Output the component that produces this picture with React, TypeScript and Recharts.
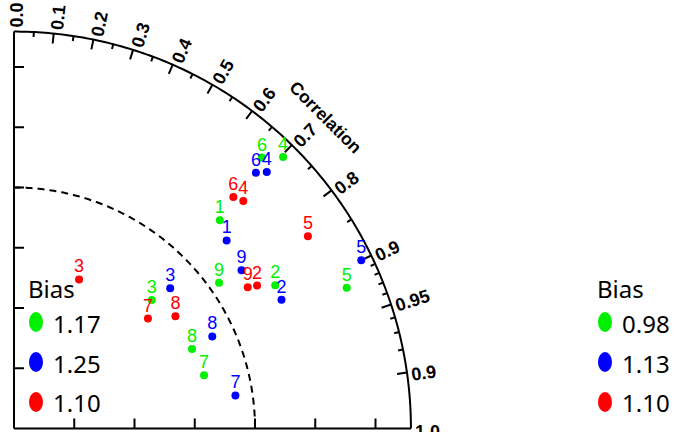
import React from 'react';
import { ScatterChart, Scatter, XAxis, YAxis } from 'recharts';

// ---- data (std normalized, correlation) ----
const greenLabels = ['1', '2', '3', '4', '5', '6', '7', '8', '9'];
const greenStd = [1.215, 1.236, 0.782, 1.586, 1.499, 1.524, 0.819, 0.809, 1.044];
const greenCorr = [0.703, 0.877, 0.731, 0.704, 0.921, 0.675, 0.963, 0.913, 0.815];

const blueLabels = ['1', '2', '3', '4', '5', '6', '7', '8', '9'];
const blueStd = [1.178, 1.232, 0.871, 1.494, 1.601, 1.461, 0.929, 0.907, 1.15];
const blueCorr = [0.749, 0.901, 0.744, 0.702, 0.9, 0.687, 0.989, 0.907, 0.821];

const redLabels = ['2', '3', '4', '5', '6', '7', '8', '9'];
const redStd = [1.17, 0.675, 1.34, 1.457, 1.323, 0.719, 0.816, 1.133];
const redCorr = [0.862, 0.4, 0.71, 0.837, 0.688, 0.773, 0.821, 0.856];

const leftLegendTitle = 'Bias';
const leftLegendValues = ['1.17', '1.25', '1.10'];
const rightLegendTitle = 'Bias';
const rightLegendValues = ['0.98', '1.13', '1.10'];

const stdTicks = [0.25, 0.5, 0.75, 1.0, 1.25, 1.5];
const corrMajorTicks = [0.1, 0.2, 0.3, 0.4, 0.5, 0.6, 0.7, 0.8, 0.9, 0.95, 0.99];
const corrMinorTicks = [0.05, 0.15, 0.25, 0.35, 0.45, 0.55, 0.65, 0.75, 0.85, 0.91, 0.92, 0.93, 0.94, 0.96, 0.97, 0.98];
const corrLabelValues = [0.0, 0.1, 0.2, 0.3, 0.4, 0.5, 0.6, 0.7, 0.8, 0.9, 0.95, 0.99, 1.0];
const corrLabelTexts = ['0.0', '0.1', '0.2', '0.3', '0.4', '0.5', '0.6', '0.7', '0.8', '0.9', '0.95', '0.9', '1.0'];
const axisTitle = 'Correlation';

const STD_MAX = 1.647;
const REF_STD = 1.0;
const DOMAIN_MAX = 1.65;

const GREEN = '#00f000';
const BLUE = '#0000ff';
const RED = '#ff0000';
const seriesColors = [GREEN, BLUE, RED];

const toXY = (std: number, corr: number) => ({
  x: std * corr,
  y: std * Math.sqrt(Math.max(0, 1 - corr * corr)),
});

const buildSeries = (labels: string[], stds: number[], corrs: number[]) =>
  labels.map((label, i) => ({ ...toXY(stds[i], corrs[i]), label }));

const greenData = buildSeries(greenLabels, greenStd, greenCorr);
const blueData = buildSeries(blueLabels, blueStd, blueCorr);
const redData = buildSeries(redLabels, redStd, redCorr);

const arcPoints = (std: number) => {
  const pts = [] as { x: number; y: number }[];
  for (let a = 0; a <= 180; a++) {
    const t = (a / 2) * (Math.PI / 180);
    pts.push({ x: std * Math.cos(t), y: std * Math.sin(t) });
  }
  return pts;
};
const outerArc = arcPoints(STD_MAX);
const refArc = arcPoints(REF_STD);
const yAxisLine = [{ x: 0, y: 0 }, { x: 0, y: STD_MAX }];
const xAxisLine = [{ x: 0, y: 0 }, { x: STD_MAX, y: 0 }];

const leftTicks = stdTicks.map((v) => ({ x: 0, y: v }));
const bottomTicks = stdTicks.map((v) => ({ x: v, y: 0 }));
const corrTicks = [
  ...corrMajorTicks.map((r) => ({ ...toXY(STD_MAX, r), r, len: 10 })),
  ...corrMinorTicks.map((r) => ({ ...toXY(STD_MAX, r), r, len: 5 })),
];
const corrLabels = corrLabelValues.map((r, i) => ({ ...toXY(STD_MAX, r), r, text: corrLabelTexts[i] }));
const titlePoint = [{ ...toXY(1.827, 0.7076), text: axisTitle }];

const Empty = () => <g />;

const LeftTick = (p: any) => (
  <line x1={p.cx} y1={p.cy} x2={p.cx + 10} y2={p.cy} stroke="#000" strokeWidth={2} />
);
const BottomTick = (p: any) => (
  <line x1={p.cx} y1={p.cy} x2={p.cx} y2={p.cy - 10} stroke="#000" strokeWidth={2} />
);
const CorrTick = (p: any) => {
  const r = p.payload.r;
  const s = Math.sqrt(1 - r * r);
  const len = p.payload.len;
  return (
    <line x1={p.cx} y1={p.cy} x2={p.cx - len * r} y2={p.cy + len * s} stroke="#000" strokeWidth={2} />
  );
};
const CorrLabel = (p: any) => {
  const r = p.payload.r;
  const s = Math.sqrt(1 - r * r);
  const ux = r, uy = -s;
  const nx = s, ny = r;
  const x = p.cx + 4 * ux + 3 * nx;
  const y = p.cy + 4 * uy + 3 * ny;
  const ang = (-Math.acos(r) * 180) / Math.PI;
  return (
    <text
      x={x}
      y={y}
      transform={`rotate(${ang} ${x} ${y})`}
      textAnchor="start"
      dominantBaseline="central"
      fontFamily="'Liberation Sans', Arial, sans-serif"
      fontWeight="bold"
      fontSize={18}
      fill="#000"
    >
      {p.payload.text}
    </text>
  );
};
const TitleLabel = (p: any) => (
  <text
    x={p.cx}
    y={p.cy}
    transform={`rotate(45 ${p.cx} ${p.cy})`}
    textAnchor="middle"
    dominantBaseline="central"
    fontFamily="'Liberation Sans', Arial, sans-serif"
    fontWeight="bold"
    fontSize={17.5}
    fill="#000"
  >
    {p.payload.text}
  </text>
);

const makePointShape = (color: string) => (p: any) => (
  <g>
    <circle cx={p.cx} cy={p.cy} r={4} fill={color} />
    <text
      x={p.cx}
      y={p.cy - 7}
      textAnchor="middle"
      fontFamily="'Liberation Sans', Arial, sans-serif"
      fontSize={18}
      fill={color}
    >
      {p.payload.label}
    </text>
  </g>
);

const Legend = ({ x, title, values }: { x: number; title: string; values: string[] }) => (
  <g fontFamily="'Noto Sans', sans-serif" fontSize={24} fill="#000">
    <text x={x} y={298}>{title}</text>
    {values.map((v, i) => (
      <g key={i}>
        <ellipse cx={x + 8} cy={322 + i * 40} rx={7} ry={10} fill={seriesColors[i]} />
        <text x={x + 25} y={333 + i * 39.5}>{v}</text>
      </g>
    ))}
  </g>
);

export default function App() {
  const plotW = DOMAIN_MAX * 241;
  return (
    <div style={{ position: 'absolute', left: 0, top: 0, width: 674, height: 432, background: '#fff' }}>
      <ScatterChart
        width={674}
        height={432}
        margin={{ top: 432 - 3.5 - plotW, right: 674 - 14 - plotW, bottom: 3.5, left: 14 }}
      >
        <XAxis type="number" dataKey="x" domain={[0, DOMAIN_MAX]} hide />
        <YAxis type="number" dataKey="y" domain={[0, DOMAIN_MAX]} hide />
        <Scatter data={yAxisLine} line={{ stroke: '#000', strokeWidth: 2, fill: 'none' }} shape={Empty} isAnimationActive={false} />
        <Scatter data={xAxisLine} line={{ stroke: '#000', strokeWidth: 2, fill: 'none' }} shape={Empty} isAnimationActive={false} />
        <Scatter data={outerArc} line={{ stroke: '#000', strokeWidth: 2, fill: 'none' }} shape={Empty} isAnimationActive={false} />
        <Scatter data={refArc} line={{ stroke: '#000', strokeWidth: 2, fill: 'none', strokeDasharray: '7 5' }} shape={Empty} isAnimationActive={false} />
        <Scatter data={leftTicks} shape={LeftTick} isAnimationActive={false} />
        <Scatter data={bottomTicks} shape={BottomTick} isAnimationActive={false} />
        <Scatter data={corrTicks} shape={CorrTick} isAnimationActive={false} />
        <Scatter data={corrLabels} shape={CorrLabel} isAnimationActive={false} />
        <Scatter data={titlePoint} shape={TitleLabel} isAnimationActive={false} />
        <Scatter data={greenData} shape={makePointShape(GREEN)} isAnimationActive={false} />
        <Scatter data={blueData} shape={makePointShape(BLUE)} isAnimationActive={false} />
        <Scatter data={redData} shape={makePointShape(RED)} isAnimationActive={false} />
      </ScatterChart>
      <svg width={674} height={432} style={{ position: 'absolute', left: 0, top: 0, pointerEvents: 'none' }}>
        <Legend x={28} title={leftLegendTitle} values={leftLegendValues} />
        <Legend x={597} title={rightLegendTitle} values={rightLegendValues} />
      </svg>
    </div>
  );
}
